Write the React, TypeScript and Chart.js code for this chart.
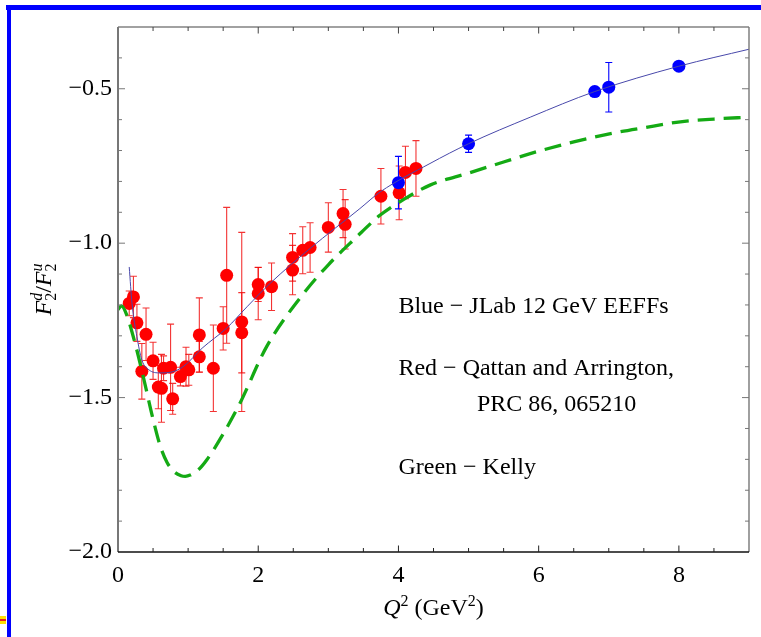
import React, { useEffect, useRef } from "react";
import { Chart, registerables } from "chart.js";

Chart.register(...registerables);

// ---------- data ----------
const xTickValues = [0, 2, 4, 6, 8];
const yTickValues = [-2.0, -1.5, -1.0, -0.5];

// Red - Qattan and Arrington
const redQ2 = [0.16, 0.22, 0.27, 0.34, 0.40, 0.50, 0.575, 0.62, 0.65, 0.75, 0.78, 0.89, 0.97, 1.01, 1.16, 1.16, 1.36, 1.50, 1.55, 1.765, 1.765, 2.0, 2.0, 2.19, 2.49, 2.49, 2.635, 2.74, 3.0, 3.21, 3.24, 3.75, 4.01, 4.10, 4.25];
const redRatio = [-1.195, -1.174, -1.258, -1.415, -1.295, -1.381, -1.466, -1.47, -1.405, -1.402, -1.504, -1.432, -1.40, -1.41, -1.297, -1.368, -1.405, -1.276, -1.104, -1.255, -1.29, -1.134, -1.163, -1.141, -1.046, -1.087, -1.023, -1.014, -0.949, -0.904, -0.939, -0.848, -0.837, -0.771, -0.758];
const redErr = [0.04, 0.067, 0.06, 0.09, 0.085, 0.06, 0.07, 0.11, 0.04, 0.14, 0.05, 0.03, 0.063, 0.05, 0.12, 0.05, 0.14, 0.07, 0.22, 0.29, 0.13, 0.055, 0.085, 0.077, 0.077, 0.08, 0.076, 0.08, 0.08, 0.078, 0.08, 0.09, 0.087, 0.085, 0.09];

// Blue - JLab 12 GeV EEFFs
const blueQ2 = [4.0, 5.0, 6.8, 7.0, 8.0];
const blueRatio = [-0.804, -0.678, -0.509, -0.495, -0.427];
const blueErr = [0.085, 0.028, 0.012, 0.08, 0.012];

// thin blue fit curve
const fitQ2 = [0.16, 0.20, 0.27, 0.34, 0.44, 0.60, 0.77, 0.94, 1.20, 1.55, 1.84, 2.17, 2.74, 3.45, 3.74, 4.45, 5.0, 5.88, 6.8, 8.0, 9.0];
const fitRatio = [-1.077, -1.195, -1.303, -1.378, -1.41, -1.42, -1.417, -1.398, -1.34, -1.275, -1.206, -1.13, -1.017, -0.888, -0.834, -0.742, -0.678, -0.592, -0.509, -0.427, -0.372];

// Green - Kelly (dashed)
const kellyQ2 = [0.0, 0.05, 0.12, 0.25, 0.36, 0.5, 0.6, 0.7, 0.8, 0.9, 0.96, 1.03, 1.15, 1.265, 1.5, 1.74, 2.12, 2.64, 3.0, 3.38, 3.74, 4.1, 4.45, 5.0, 5.5, 5.88, 6.5, 7.07, 7.5, 8.02, 8.5, 9.0];
const kellyRatio = [-1.215, -1.203, -1.23, -1.33, -1.432, -1.57, -1.655, -1.71, -1.74, -1.753, -1.755, -1.751, -1.733, -1.702, -1.618, -1.518, -1.335, -1.165, -1.07, -0.985, -0.909, -0.855, -0.812, -0.773, -0.737, -0.71, -0.672, -0.643, -0.626, -0.607, -0.598, -0.592];

const noteTexts = [
  "Blue \u2212 JLab 12 GeV EEFFs",
  "Red \u2212 Qattan and Arrington,",
  "PRC 86, 065210",
  "Green \u2212 Kelly",
];
const noteQ2 = [4.0, 4.0, 5.12, 4.0];
const noteRatio = [-1.226, -1.427, -1.545, -1.747];

// ---------- styling ----------
const SERIF = '"Liberation Serif", "Times New Roman", Times, serif';
const FS = 24;

type Seg = { t: string; size: number; italic?: boolean; dy?: number; advance?: boolean };

function segFont(s: Seg) {
  return `${s.italic ? "italic " : ""}${s.size}px ${SERIF}`;
}

function drawRich(ctx: CanvasRenderingContext2D, segs: Seg[], x: number, y: number) {
  let w = 0;
  for (const s of segs) {
    ctx.font = segFont(s);
    if (s.advance !== false) w += ctx.measureText(s.t).width;
  }
  let cx = x - w / 2;
  for (const s of segs) {
    ctx.font = segFont(s);
    ctx.fillText(s.t, cx, y + (s.dy || 0));
    if (s.advance !== false) cx += ctx.measureText(s.t).width;
  }
}

const minus = (v: number) => (v < 0 ? "\u2212" : "") + Math.abs(v).toFixed(1);

const errorBarPlugin = {
  id: "errorBars",
  beforeDatasetsDraw(chart: any) {
    const { ctx, scales } = chart;
    const xs = scales.x;
    const ys = scales.y;
    const draw = (qs: number[], rs: number[], es: number[], color: string) => {
      ctx.save();
      ctx.strokeStyle = color;
      ctx.lineWidth = 1.1;
      for (let i = 0; i < qs.length; i++) {
        const px = xs.getPixelForValue(qs[i]);
        const y1 = ys.getPixelForValue(rs[i] + es[i]);
        const y2 = ys.getPixelForValue(rs[i] - es[i]);
        ctx.beginPath();
        ctx.moveTo(px, y1);
        ctx.lineTo(px, y2);
        ctx.moveTo(px - 3.5, y1);
        ctx.lineTo(px + 3.5, y1);
        ctx.moveTo(px - 3.5, y2);
        ctx.lineTo(px + 3.5, y2);
        ctx.stroke();
      }
      ctx.restore();
    };
    draw(redQ2, redRatio, redErr, "rgba(240,0,0,0.8)");
    draw(blueQ2, blueRatio, blueErr, "rgb(0,0,255)");
  },
};

const framePlugin = {
  id: "frameAndText",
  afterDatasetsDraw(chart: any) {
    const { ctx, chartArea: a, scales } = chart;
    const xs = scales.x;
    const ys = scales.y;
    ctx.save();
    const line = (x1: number, y1: number, x2: number, y2: number, c: string, w: number) => {
      ctx.strokeStyle = c;
      ctx.lineWidth = w;
      ctx.beginPath();
      ctx.moveTo(x1, y1);
      ctx.lineTo(x2, y2);
      ctx.stroke();
    };
    line(a.left, a.top, a.right, a.top, "#444", 1.2);
    line(a.right, a.top, a.right, a.bottom, "#777", 1.4);
    line(a.left, a.top, a.left, a.bottom, "#777", 2);
    line(a.left, a.bottom, a.right, a.bottom, "#111", 1.6);
    for (let v = 0; v <= 9.0001; v += 0.5) {
      const px = xs.getPixelForValue(v);
      const major = Math.abs(v % 2) < 1e-6;
      const len = major ? 6.5 : 4;
      if (px > a.left + 1 && px < a.right - 1) {
        line(px, a.bottom, px, a.bottom - len, "#222", 1);
        line(px, a.top, px, a.top + len, "#444", 1);
      }
    }
    for (let k = -20; k <= -3; k++) {
      const v = k / 10;
      const py = ys.getPixelForValue(v);
      const major = k % 5 === 0;
      const len = major ? 7 : 4;
      if (py > a.top + 1 && py < a.bottom - 1) {
        line(a.left, py, a.left + len, py, "#777", 1);
        line(a.right, py, a.right - len, py, "#777", 1);
      }
    }
    ctx.fillStyle = "#000";
    ctx.font = `${FS}px ${SERIF}`;
    ctx.textAlign = "left";
    ctx.textBaseline = "alphabetic";
    for (let i = 0; i < noteTexts.length; i++) {
      ctx.fillText(noteTexts[i], xs.getPixelForValue(noteQ2[i]), ys.getPixelForValue(noteRatio[i]));
    }
    const xTitle: Seg[] = [
      { t: "Q", size: FS, italic: true },
      { t: "2", size: 16, dy: -9 },
      { t: " (GeV", size: FS },
      { t: "2", size: 16, dy: -9 },
      { t: ")", size: FS },
    ];
    drawRich(ctx, xTitle, (a.left + a.right) / 2, a.bottom + 63);
    const yTitle: Seg[] = [
      { t: "F", size: FS, italic: true },
      { t: "2", size: 16, dy: 5, advance: false },
      { t: "d", size: 16, italic: true, dy: -9 },
      { t: "/", size: FS },
      { t: "F", size: FS, italic: true },
      { t: "2", size: 16, dy: 5, advance: false },
      { t: "u", size: 16, italic: true, dy: -9 },
    ];
    ctx.translate(a.left - 67, (a.top + a.bottom) / 2);
    ctx.rotate(-Math.PI / 2);
    drawRich(ctx, yTitle, 0, 0);
    ctx.restore();
  },
};

export default function App() {
  const canvasRef = useRef<HTMLCanvasElement | null>(null);

  useEffect(() => {
    const canvas = canvasRef.current;
    if (!canvas) return;
    const chart = new Chart(canvas, {
      type: "scatter",
      data: {
        datasets: [
          {
            label: "Kelly",
            data: kellyQ2.map((q, i) => ({ x: q, y: kellyRatio[i] })),
            showLine: true,
            borderColor: "rgb(20,170,20)",
            borderWidth: 3.3,
            borderDash: [17, 9],
            pointRadius: 0,
            cubicInterpolationMode: "monotone",
            order: 0,
          } as any,
          {
            label: "Fit",
            data: fitQ2.map((q, i) => ({ x: q, y: fitRatio[i] })),
            showLine: true,
            borderColor: "rgb(72,72,170)",
            borderWidth: 1,
            pointRadius: 0,
            cubicInterpolationMode: "monotone",
            order: 1,
          } as any,
          {
            label: "JLab 12 GeV EEFFs",
            data: blueQ2.map((q, i) => ({ x: q, y: blueRatio[i] })),
            backgroundColor: "rgb(0,0,255)",
            borderColor: "rgb(0,0,255)",
            borderWidth: 0,
            pointRadius: 6.5,
            order: 2,
          },
          {
            label: "Qattan and Arrington",
            data: redQ2.map((q, i) => ({ x: q, y: redRatio[i] })),
            backgroundColor: "rgb(255,0,0)",
            borderColor: "rgb(255,0,0)",
            borderWidth: 0,
            pointRadius: 6.5,
            order: 3,
          },
        ],
      },
      options: {
        animation: false,
        responsive: false,
        devicePixelRatio: 1,
        layout: { padding: { left: 0, right: 12, top: 27, bottom: 0 } },
        plugins: {
          legend: { display: false },
          tooltip: { enabled: false },
        },
        scales: {
          x: {
            type: "linear",
            min: 0,
            max: 9,
            grid: { display: false, drawTicks: false },
            border: { display: false },
            afterBuildTicks: (s: any) => {
              s.ticks = xTickValues.map((v) => ({ value: v }));
            },
            afterFit: (s: any) => {
              s.height = 85;
            },
            ticks: {
              color: "#000",
              padding: 9,
              font: { family: SERIF, size: FS },
              callback: (v: any) => String(v),
            },
          },
          y: {
            type: "linear",
            min: -2,
            max: -0.3,
            grid: { display: false, drawTicks: false },
            border: { display: false },
            afterBuildTicks: (s: any) => {
              s.ticks = yTickValues.map((v) => ({ value: v }));
            },
            afterFit: (s: any) => {
              s.width = 118;
            },
            ticks: {
              color: "#000",
              padding: 6,
              font: { family: SERIF, size: FS },
              callback: (v: any) => minus(Number(v)),
            },
          },
        },
      },
      plugins: [errorBarPlugin, framePlugin],
    });
    return () => chart.destroy();
  }, []);

  return (
    <div style={{ position: "fixed", left: 0, top: 0, width: 761, height: 637, background: "#fff", overflow: "hidden" }}>
      <canvas ref={canvasRef} width={761} height={637} style={{ position: "absolute", left: 0, top: 0, width: 761, height: 637 }} />
      <div style={{ position: "absolute", left: 6, top: 5, width: 755, height: 4.5, background: "rgb(0,0,255)" }} />
      <div style={{ position: "absolute", left: 6.5, top: 5, width: 4.5, height: 632, background: "rgb(0,0,255)" }} />
      <div style={{ position: "absolute", left: 0, top: 616, width: 6, height: 8, background: "rgb(255,225,0)" }} />
      <div style={{ position: "absolute", left: 0, top: 619, width: 6, height: 2, background: "rgb(230,30,30)" }} />
    </div>
  );
}
